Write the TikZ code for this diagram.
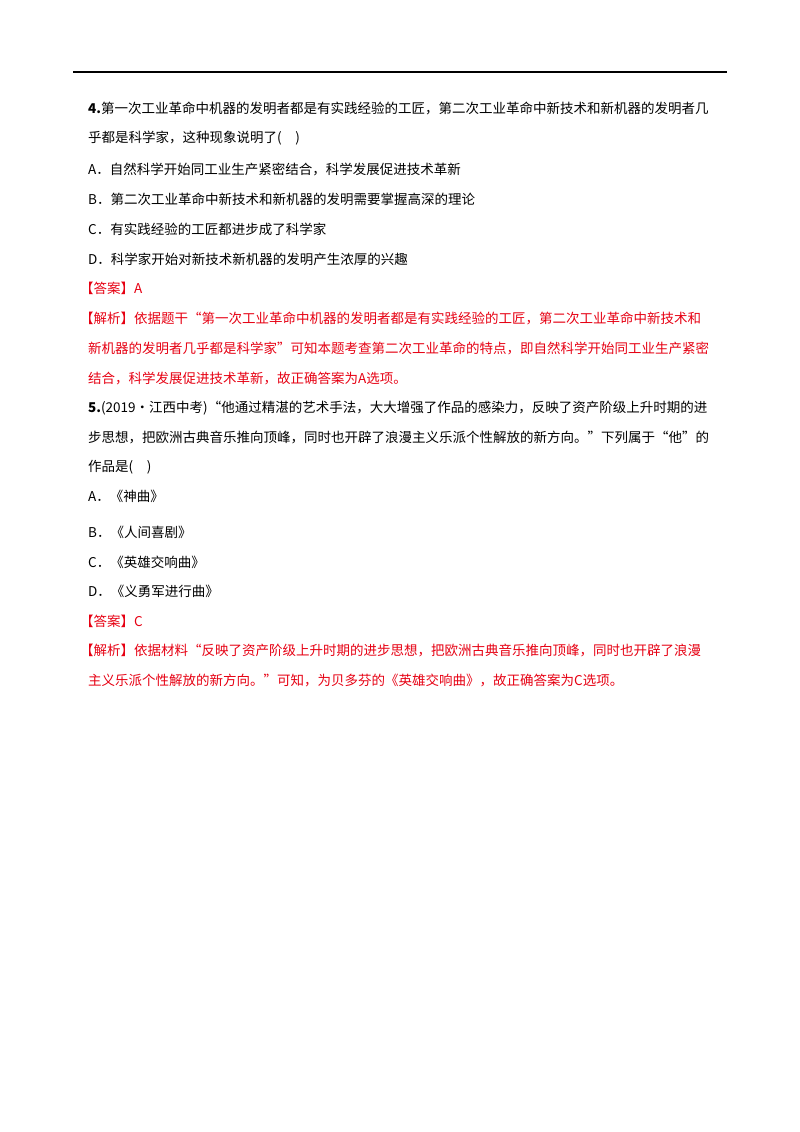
\documentclass[tikz,border=0pt]{standalone}
\usepackage{fontspec}
\setmainfont{Noto Sans CJK SC}
\definecolor{ansred}{RGB}{230,0,18}
\begin{document}
\begin{tikzpicture}[x=1pt,y=-1pt,
  t/.style={anchor=west,inner sep=0pt,font=\fontsize{13.5}{14}\selectfont},
  r/.style={t,text=ansred}]
\useasboundingbox (0,0) rectangle (800,1132);
\draw[line width=1.5pt] (73,72) -- (727,72);
\node[t] (q4a) at (88,108) {\textbf{4.}第一次工业革命中机器的发明者都是有实践经验的工匠，第二次工业革命中新技术和新机器的发明者几};
\node[t] (q4b) at (88,138) {乎都是科学家，这种现象说明了(\quad)};
\node[t] (q4A) at (88,169) {A．自然科学开始同工业生产紧密结合，科学发展促进技术革新};
\node[t] (q4B) at (88,199) {B．第二次工业革命中新技术和新机器的发明需要掌握高深的理论};
\node[t] (q4C) at (88,229) {C．有实践经验的工匠都进步成了科学家};
\node[t] (q4D) at (88,259) {D．科学家开始对新技术新机器的发明产生浓厚的兴趣};
\node[r] (a4) at (80,288) {【答案】A};
\node[r] (e4a) at (80,318) {【解析】依据题干“第一次工业革命中机器的发明者都是有实践经验的工匠，第二次工业革命中新技术和};
\node[r] (e4b) at (88,348) {新机器的发明者几乎都是科学家”可知本题考查第二次工业革命的特点，即自然科学开始同工业生产紧密};
\node[r] (e4c) at (88,378) {结合，科学发展促进技术革新，故正确答案为A选项。};
\node[t] (q5a) at (88,408) {\textbf{5.}(2019·江西中考)“他通过精湛的艺术手法，大大增强了作品的感染力，反映了资产阶级上升时期的进};
\node[t] (q5b) at (88,437) {步思想，把欧洲古典音乐推向顶峰，同时也开辟了浪漫主义乐派个性解放的新方向。”下列属于“他”的};
\node[t] (q5c) at (88,467) {作品是(\quad)};
\node[t] (q5A) at (88,496) {A．《神曲》};
\node[t] (q5B) at (88,532) {B．《人间喜剧》};
\node[t] (q5C) at (88,562) {C．《英雄交响曲》};
\node[t] (q5D) at (88,591) {D．《义勇军进行曲》};
\node[r] (a5) at (80,621) {【答案】C};
\node[r] (e5a) at (80,650) {【解析】依据材料“反映了资产阶级上升时期的进步思想，把欧洲古典音乐推向顶峰，同时也开辟了浪漫};
\node[r] (e5b) at (88,680) {主义乐派个性解放的新方向。”可知，为贝多芬的《英雄交响曲》，故正确答案为C选项。};
\end{tikzpicture}
\end{document}
